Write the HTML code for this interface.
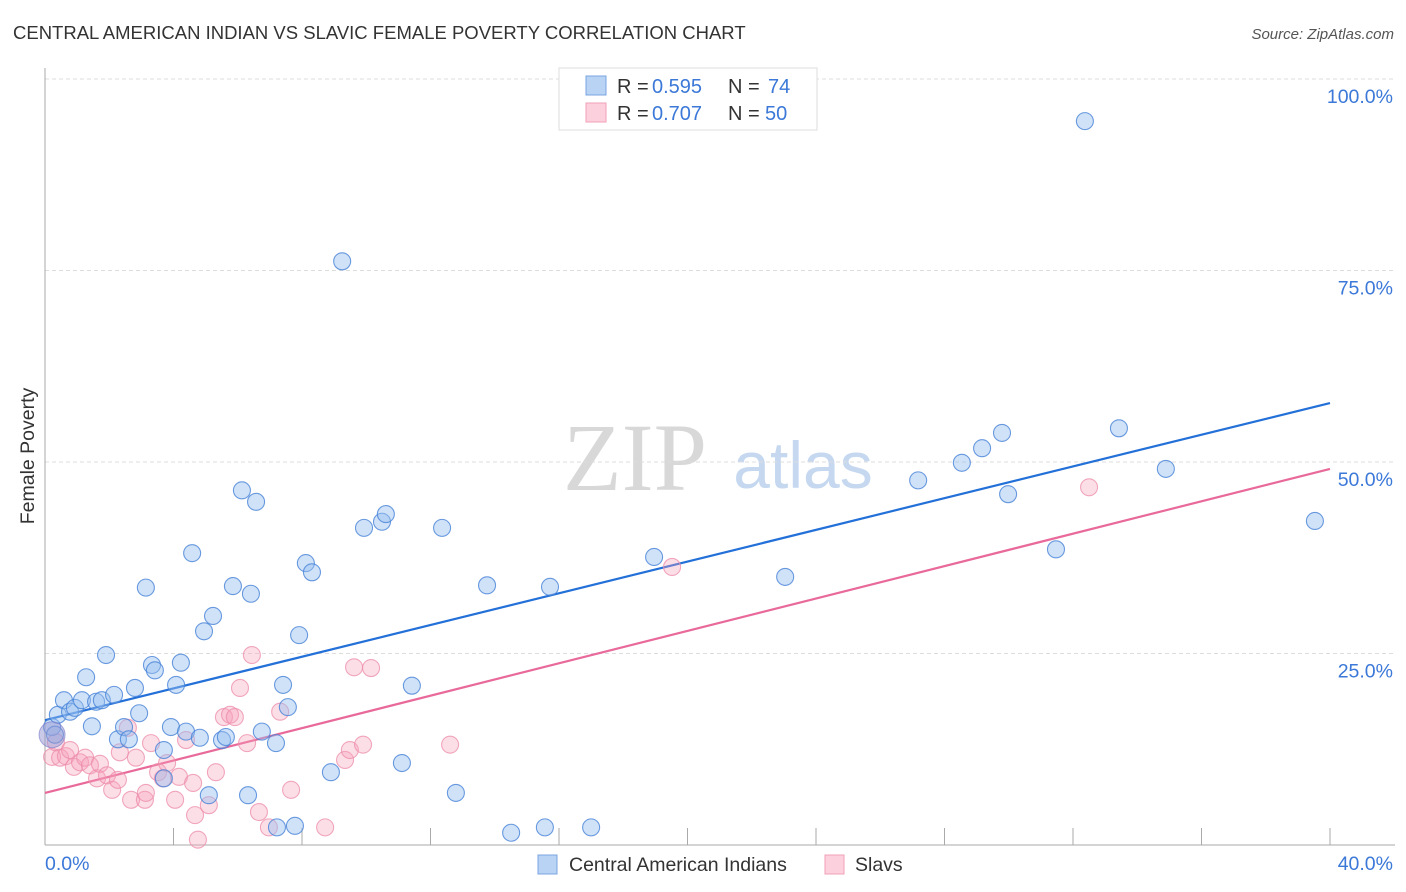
<!DOCTYPE html>
<html><head><meta charset="utf-8"><style>
body{margin:0;background:#fff;font-family:"Liberation Sans",sans-serif;}
svg{display:block}
</style></head><body>
<svg id="chart" width="1406" height="892" xmlns="http://www.w3.org/2000/svg" font-family="Liberation Sans, sans-serif">
<text x="13" y="39" font-size="18.5" fill="#333">CENTRAL AMERICAN INDIAN VS SLAVIC FEMALE POVERTY CORRELATION CHART</text>
<text x="1394" y="39" font-size="15" fill="#555" font-style="italic" text-anchor="end">Source: ZipAtlas.com</text>
<g>
<text x="635" y="490" font-size="96" fill="#d8d8d8" font-family="Liberation Serif, serif" text-anchor="middle">ZIP</text>
<text x="803" y="488" font-size="66" fill="#c5d8f0" text-anchor="middle">atlas</text>
</g>
<g id="grid"></g>
<g id="axes"></g>
<g id="lines"></g>
<g id="pts"></g>
<text transform="translate(34,456) rotate(-90)" font-size="19.5" fill="#333" text-anchor="middle">Female Poverty</text>
<text x="45" y="870" font-size="19.5" fill="#3b78d8">0.0%</text>
<text x="1393" y="870" font-size="19.5" fill="#3b78d8" text-anchor="end">40.0%</text>
<g>
<rect x="559" y="68" width="258" height="62" fill="#fff" stroke="#ddd"/>
<rect x="586" y="76" width="20" height="19" fill="#b9d3f5" stroke="#7aa6e0"/>
<rect x="586" y="103" width="20" height="19" fill="#fcd0dc" stroke="#f0a0b8"/>
<text x="617" y="93" font-size="20" fill="#333">R =</text>
<text x="652" y="93" font-size="20" fill="#3b78d8">0.595</text>
<text x="728" y="93" font-size="20" fill="#333">N =</text>
<text x="768" y="93" font-size="20" fill="#3b78d8">74</text>
<text x="617" y="120" font-size="20" fill="#333">R =</text>
<text x="652" y="120" font-size="20" fill="#3b78d8">0.707</text>
<text x="728" y="120" font-size="20" fill="#333">N =</text>
<text x="765" y="120" font-size="20" fill="#3b78d8">50</text>
</g>
<g>
<rect x="538" y="855" width="19" height="19" fill="#b9d3f5" stroke="#7aa6e0"/>
<text x="569" y="871" font-size="19.5" fill="#333">Central American Indians</text>
<rect x="825" y="855" width="19" height="19" fill="#fcd0dc" stroke="#f0a0b8"/>
<text x="855" y="871" font-size="19.5" fill="#333">Slavs</text>
</g>
</svg>
<script>
const yTicks=[25,50,75,100];
const yTickLabels=["25.0%","50.0%","75.0%","100.0%"];
const xTicks=[4,8,12,16,20,24,28,32,36,40];
const blueX=[0.22,0.31,0.40,0.59,0.78,0.93,1.15,1.28,1.46,1.59,1.77,1.90,2.15,2.27,2.46,2.61,2.80,2.93,3.14,3.33,3.42,3.70,3.70,3.92,4.08,4.23,4.39,4.58,4.82,4.95,5.10,5.23,5.51,5.63,5.85,6.13,6.32,6.41,6.57,6.75,7.19,7.22,7.41,7.56,7.78,7.91,8.12,8.31,8.90,9.25,9.93,10.49,10.61,11.11,11.42,12.36,12.79,13.76,14.51,15.56,15.72,17.00,18.96,23.04,27.18,28.54,29.17,29.79,29.98,31.47,32.37,33.43,34.89,39.53];
const blueY=[15.4,14.4,17.0,18.9,17.4,17.9,18.9,21.9,15.5,18.7,18.9,24.8,19.6,13.8,15.4,13.8,20.5,17.2,33.6,23.5,22.8,12.4,8.7,15.4,20.9,23.8,14.8,38.1,14.0,27.9,6.5,29.9,13.7,14.1,33.8,46.3,6.5,32.8,44.8,14.8,13.3,2.3,20.9,18.0,2.5,27.4,36.8,35.6,9.5,76.2,41.4,42.2,43.2,10.7,20.8,41.4,6.8,33.9,1.6,2.3,33.7,2.3,37.6,35.0,47.6,49.9,51.8,53.8,45.8,38.6,94.5,54.4,49.1,42.3];
const pinkX=[0.22,0.34,0.47,0.65,0.78,0.90,1.09,1.25,1.40,1.62,1.71,1.93,2.09,2.27,2.33,2.58,2.68,2.83,3.11,3.14,3.30,3.52,3.67,3.80,4.05,4.17,4.39,4.61,4.67,4.76,5.10,5.32,5.57,5.76,5.91,6.07,6.29,6.44,6.66,6.97,7.32,7.66,8.72,9.34,9.49,9.62,9.90,10.15,12.61,19.52,32.50];
const pinkY=[11.5,13.4,11.4,11.6,12.4,10.2,10.8,11.4,10.4,8.7,10.6,9.1,7.2,8.5,12.1,15.3,5.9,11.4,5.9,6.8,13.3,9.5,8.7,10.7,5.9,8.9,13.7,8.1,3.9,0.7,5.2,9.5,16.7,17.0,16.7,20.5,13.3,24.8,4.3,2.3,17.4,7.2,2.3,11.1,12.4,23.2,13.1,23.1,13.1,36.3,46.7];
const blueTrend=[16.3,57.7];
const pinkTrend=[6.8,49.1];
const X0=45,X1=1330,Y0=845,Y100=79;
const sx=v=>X0+(v/40)*(X1-X0);
const sy=v=>Y0-(v/100)*(Y0-Y100);
const NS="http://www.w3.org/2000/svg";
function mk(tag,attrs,parent){const e=document.createElementNS(NS,tag);for(const k in attrs)e.setAttribute(k,attrs[k]);parent.appendChild(e);return e;}
const grid=document.getElementById('grid'),axes=document.getElementById('axes'),lines=document.getElementById('lines'),pts=document.getElementById('pts');
yTicks.forEach((t,i)=>{
 const l=mk('line',{x1:X0,x2:1395,y1:sy(t),y2:sy(t),stroke:'#ddd','stroke-dasharray':'4,3'},grid);
 
 
 const tx=mk('text',{x:1393,y:sy(t)+24,'font-size':19.5,fill:'#3b78d8','text-anchor':'end'},axes);
 tx.textContent=yTickLabels[i];
 
 
});
let ya=mk('line',{x1:X0,x2:X0,y1:68,y2:Y0,stroke:'#aaa'},axes);


let xa=mk('line',{x1:X0,x2:1395,y1:Y0,y2:Y0,stroke:'#aaa'},axes);


xTicks.forEach(t=>{
 const l=mk('line',{x1:sx(t),x2:sx(t),y1:Y0,y2:Y0-17,stroke:'#aaa'},axes);
 
 
});
function drawPts(xs,ys,fill,stroke,name){
 xs.forEach((x,i)=>{
  const c=mk('circle',{cx:sx(x),cy:sy(ys[i]),r:8.5,fill:fill,stroke:stroke,'stroke-width':1.1},pts);
  
  
 });
}
drawPts(pinkX,pinkY,'rgba(245,160,185,0.35)','rgba(236,140,170,0.75)','slavs-point');
drawPts(blueX,blueY,'rgba(150,190,240,0.45)','rgba(70,130,215,0.8)','central-american-indians-point');
let big=mk('circle',{cx:sx(0.22),cy:sy(14.4),r:13,fill:'rgba(150,150,210,0.5)',stroke:'rgba(120,120,200,0.6)'},pts);


let bl=mk('line',{x1:sx(0),y1:sy(blueTrend[0]),x2:sx(40),y2:sy(blueTrend[1]),stroke:'#2370d8','stroke-width':2.2},lines);


let pl=mk('line',{x1:sx(0),y1:sy(pinkTrend[0]),x2:sx(40),y2:sy(pinkTrend[1]),stroke:'#e8699a','stroke-width':2.2},lines);


</script>
</body></html>
